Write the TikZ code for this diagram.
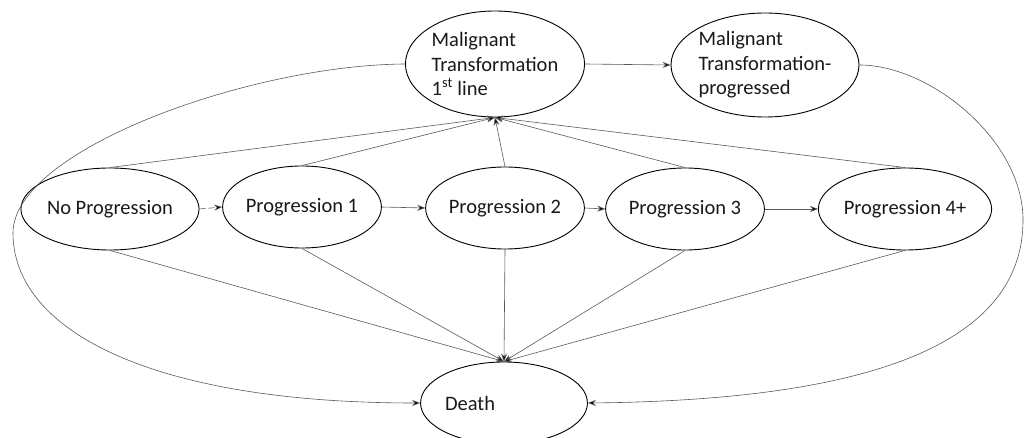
\documentclass[tikz,border=0pt]{standalone}
\usepackage{fontspec}
\setmainfont{Carlito}
\usetikzlibrary{shapes.geometric,arrows.meta}
\begin{document}
\begin{tikzpicture}[x=1pt,y=-1pt,
  ell/.style={draw=black,line width=0.9pt,ellipse,inner sep=0pt,
    font=\fontsize{20.5}{24.4}\selectfont,text=black!90},
  prog/.style={ell,minimum width=155pt,minimum height=82pt},
  conn/.style={draw=black!65,line width=0.6pt,-{Stealth[length=8pt,width=6pt,fill=black]}}
]
\useasboundingbox (0,0) rectangle (1025,438);
\node[ell,minimum width=170pt,minimum height=106pt,align=left] (mt1) at (495,64)
  {Malignant\\Transformation\\1\textsuperscript{st} line};
\node[ell,minimum width=170pt,minimum height=104pt,align=left] (mtp) at (765,65)
  {Malignant\\Transformation-\\progressed};
\node[prog] (np) at (110,209) {No Progression};
\node[prog] (p1) at (302,207) {Progression 1};
\node[prog] (p2) at (505,208) {Progression 2};
\node[prog] (p3) at (685,209) {Progression 3};
\node[prog] (p4) at (905,209) {Progression 4+};
\node[prog,text width=118pt,align=left] (death) at (504,403) {Death};

\draw[conn,dashed,dash pattern=on 6pt off 3pt] (np.east) -- (p1.west);
\draw[conn] (p1.east) -- (p2.west);
\draw[conn] (p2.east) -- (p3.west);
\draw[conn] (p3.east) -- (p4.west);
\draw[conn] (mt1.east) -- (mtp.west);

\foreach \n in {np,p1,p2,p3,p4} {
  \draw[conn] (\n.north) -- (mt1.south);
  \draw[conn] (\n.south) -- (death.north);
}

\draw[conn] (mt1.west) .. controls (250,65) and (13,150) .. (13,233)
  .. controls (13,330) and (150,403) .. (death.west);
\draw[conn] (mtp.east) .. controls (930,65) and (1023,140) .. (1023,220)
  .. controls (1023,340) and (880,400) .. (death.east);
\end{tikzpicture}
\end{document}
